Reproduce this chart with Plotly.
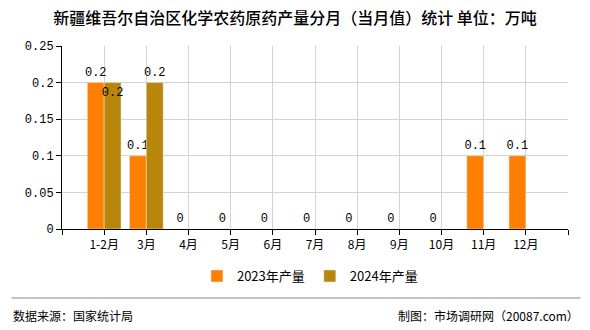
import plotly.graph_objects as go

categories = ["1-2月", "3月", "4月", "5月", "6月", "7月", "8月", "9月", "10月", "11月", "12月"]
y2023 = [0.2, 0.1, 0, 0, 0, 0, 0, 0, 0, 0.1, 0.1]
y2024 = [0.2, 0.2, None, None, None, None, None, None, None, None, None]
y_ticks = [0, 0.05, 0.1, 0.15, 0.2, 0.25]
y_tick_text = ["0", "0.05", "0.1", "0.15", "0.2", "0.25"]

num_font = "Liberation Mono, DejaVu Sans Mono, monospace"
cjk_font = "Noto Sans CJK SC, Noto Sans, sans-serif"

idx = list(range(len(categories)))

def fmt(v):
    return "" if v is None else ("0" if v == 0 else f"{v:g}")

fig = go.Figure()
fig.add_trace(go.Bar(
    x=idx, y=y2023, name="2023年产量", marker_color="#FF8000",
    text=[fmt(v) for v in y2023], textposition="outside", textangle=0,
    textfont=dict(family=num_font, size=12, color="#000"),
    constraintext="none", cliponaxis=False,
))
fig.add_trace(go.Bar(
    x=idx, y=y2024, name="2024年产量", marker_color="#B8860B",
    text=[fmt(v) for v in y2024], textangle=0,
    textposition=["inside", "outside"] + ["none"] * (len(categories) - 2),
    insidetextanchor="end",
    textfont=dict(family=num_font, size=12, color="#000"),
    insidetextfont=dict(family=num_font, size=12, color="#000"),
    outsidetextfont=dict(family=num_font, size=12, color="#000"),
    constraintext="none", cliponaxis=False,
))

fig.update_layout(
    width=590, height=330,
    margin=dict(l=62, r=22, t=46, b=101),
    paper_bgcolor="white", plot_bgcolor="white",
    barmode="group", bargap=0.2, bargroupgap=0,
    title=dict(text="新疆维吾尔自治区化学农药原药产量分月（当月值）统计 单位：万吨",
               x=0.5, xanchor="center", y=0.945, yanchor="middle",
               font=dict(family=cjk_font, size=16, color="#000", weight=500)),
    showlegend=True,
    legend=dict(orientation="h", x=0.49, xanchor="center", y=-0.175, yanchor="top",
                font=dict(family=cjk_font, size=13, color="#000"),
                itemwidth=30, traceorder="normal"),
    xaxis=dict(
        range=[-1, 11],
        tickmode="array",
        tickvals=list(range(-1, 12)),
        ticktext=[""] + categories + [""],
        showgrid=True, gridcolor="#d3d3d3", gridwidth=1,
        showline=True, linecolor="#000", linewidth=1,
        ticks="outside", ticklen=5, tickcolor="#000",
        tickfont=dict(family=cjk_font, size=12, color="#000"),
        zeroline=False, fixedrange=True,
    ),
    yaxis=dict(
        range=[0, 0.25],
        tickmode="array", tickvals=y_ticks, ticktext=y_tick_text,
        showgrid=True, gridcolor="#d3d3d3", gridwidth=1,
        showline=True, linecolor="#000", linewidth=1,
        ticks="outside", ticklen=5, tickcolor="#000",
        tickfont=dict(family=num_font, size=12, color="#000"),
        zeroline=False, fixedrange=True,
    ),
    shapes=[dict(type="line", xref="paper", yref="paper",
                 x0=-0.1, x1=1.025, y0=-0.377, y1=-0.377,
                 line=dict(color="#888", width=1))],
    annotations=[
        dict(text="数据来源：国家统计局", xref="paper", yref="paper",
             x=-0.1, xanchor="left", y=-0.475, yanchor="middle", showarrow=False,
             font=dict(family=cjk_font, size=12, color="#000")),
        dict(text="制图：市场调研网（20087.com）", xref="paper", yref="paper",
             x=1.025, xanchor="right", y=-0.475, yanchor="middle", showarrow=False,
             font=dict(family=cjk_font, size=12, color="#000")),
    ],
)

fig.write_html("out.html")
